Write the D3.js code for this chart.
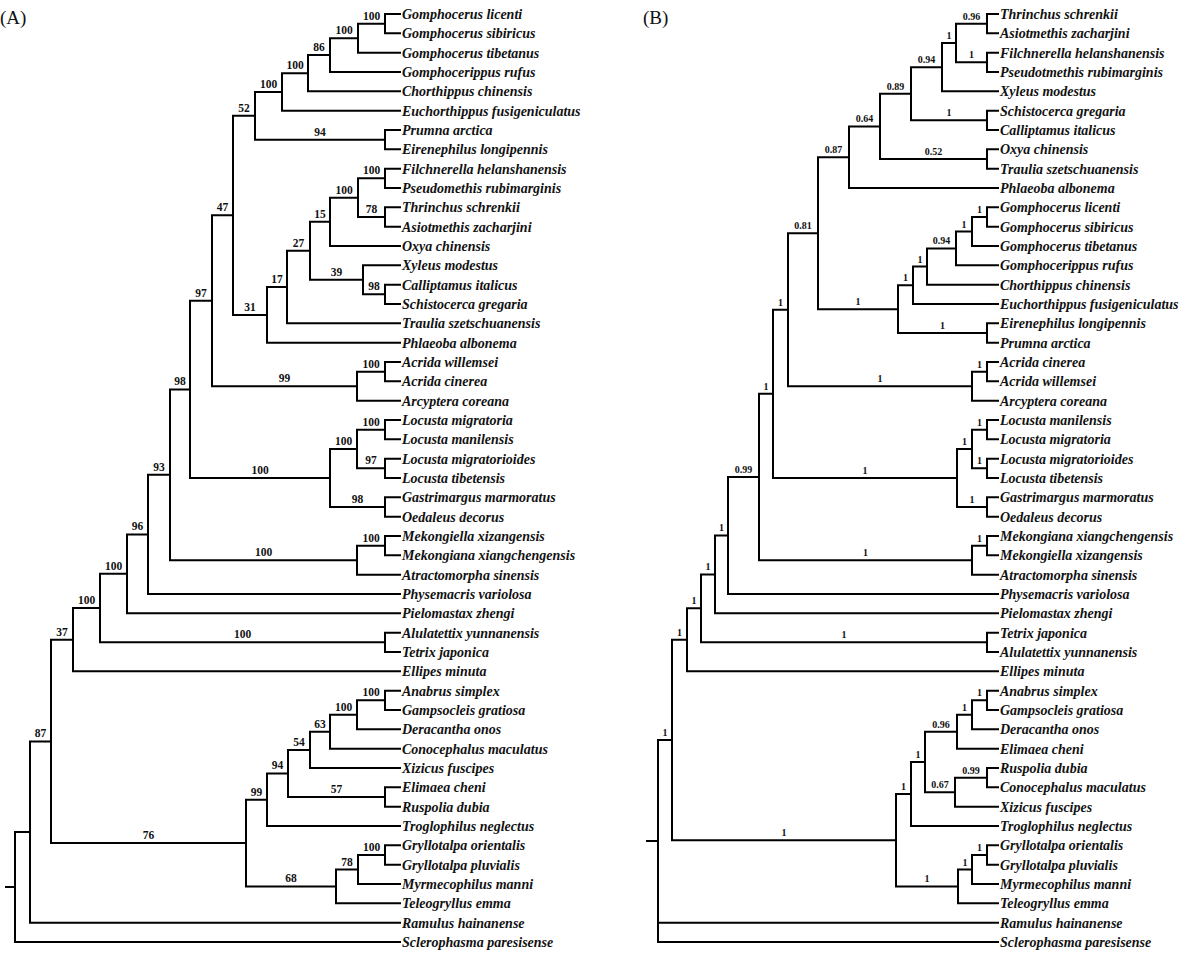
<!DOCTYPE html>
<html>
<head>
<meta charset="utf-8">
<script src="https://cdn.jsdelivr.net/npm/d3@7/dist/d3.min.js"></script>
<style>
  html, body { margin: 0; padding: 0; background: #fff; }
  svg { display: block; }
</style>
</head>
<body>
<svg id="chart" width="1200" height="975"></svg>
<script>
// ---------------- DATA ----------------
// Tree (A): Newick clades, internal labels = bootstrap support, lengths = branch lengths (figure units)
const A_gomph = "((((((Gomphocerus licenti,Gomphocerus sibiricus)100:27,Gomphocerus tibetanus)100:28,Gomphocerippus rufus)86:22,Chorthippus chinensis)100:26,Euchorthippus fusigeniculatus)100:27,(Prumna arctica,Eirenephilus longipennis)94:130)52:22";
const A_oedip = "((((((Filchnerella helanshanensis,Pseudomethis rubimarginis)100:27,(Thrinchus schrenkii,Asiotmethis zacharjini)78:27)100:28,Oxya chinensis)15:20,(Xyleus modestus,(Calliptamus italicus,Schistocerca gregaria)98:22)39:53)27:23,Traulia szetschuanensis)17:20,Phlaeoba albonema)31:34";
const A_acrida = "((Acrida willemsei,Acrida cinerea)100:28,Arcyptera coreana)99:145";
const A_locusta = "(((Locusta migratoria,Locusta manilensis)100:28,(Locusta migratorioides,Locusta tibetensis)97:28)100:27,(Gastrimargus marmoratus,Oedaleus decorus)98:55)100:140";
const A_mekong = "((Mekongiella xizangensis,Mekongiana xiangchengensis)100:28,Atractomorpha sinensis)100:187";
const A_tetrix = "(Alulatettix yunnanensis,Tetrix japonica)100:285";
const A_ensifera = "(((((((Anabrus simplex,Gampsocleis gratiosa)100:28,Deracantha onos)100:27,Conocephalus maculatus)63:20,Xizicus fuscipes)54:22,(Elimaea cheni,Ruspolia dubia)57:97)94:21,Troglophilus neglectus)99:21,(((Gryllotalpa orientalis,Gryllotalpa pluvialis)100:27,Myrmecophilus manni)78:22,Teleogryllus emma)68:90)76:195";
const A_caelifera =
  "((((((((" + A_gomph + "," + A_oedip + ")47:21," + A_acrida + ")97:22," + A_locusta + ")98:20," +
  A_mekong + ")93:22,Physemacris variolosa)96:21,Pielomastax zhengi)100:27," + A_tetrix + ")100:27,Ellipes minuta)37:22";
const newickA = "(((" + A_caelifera + "," + A_ensifera + ")87:21,Ramulus hainanense):15,Sclerophasma paresisense):10;";

// Tree (B): Newick clades, internal labels = posterior probabilities
const B_top = "(((((((Thrinchus schrenkii,Asiotmethis zacharjini)0.96:31,(Filchnerella helanshanensis,Pseudotmethis rubimarginis)1:31)1:14,Xyleus modestus)0.94:31,(Schistocerca gregaria,Calliptamus italicus)1:76)0.89:31,(Oxya chinensis,Traulia szetschuanensis)0.52:107)0.64:31,Phlaeoba albonema)0.87:31,((((((Gomphocerus licenti,Gomphocerus sibiricus)1:15,Gomphocerus tibetanus)1:16,Gomphocerippus rufus)0.94:29,Chorthippus chinensis)1:14,Euchorthippus fusigeniculatus)1:15,(Eirenephilus longipennis,Prumna arctica)1:89)1:80)0.81:30";
const B_acrida = "((Acrida cinerea,Acrida willemsei)1:15,Arcyptera coreana)1:184";
const B_locusta = "(((Locusta manilensis,Locusta migratoria)1:15,(Locusta migratorioides,Locusta tibetensis)1:15)1:15,(Gastrimargus marmoratus,Oedaleus decorus)1:30)1:184";
const B_mekong = "((Mekongiana xiangchengensis,Mekongiella xizangensis)1:15,Atractomorpha sinensis)1:213";
const B_tetrix = "(Tetrix japonica,Alulatettix yunnanensis)1:286";
const B_ensifera = "((((((Anabrus simplex,Gampsocleis gratiosa)1:15,Deracantha onos)1:15,Elimaea cheni)0.96:32,((Ruspolia dubia,Conocephalus maculatus)0.99:32,Xizicus fuscipes)0.67:30)1:14,Troglophilus neglectus)1:15,(((Gryllotalpa orientalis,Gryllotalpa pluvialis)1:15,Myrmecophilus manni)1:14,Teleogryllus emma)1:62)1:224";
const B_caelifera =
  "((((((((" + B_top + "," + B_acrida + ")1:15," + B_locusta + ")1:14," + B_mekong + ")0.99:31,Physemacris variolosa)1:13,Pielomastax zhengi)1:14," +
  B_tetrix + ")1:14,Ellipes minuta)1:15";
const newickB = "((" + B_caelifera + "," + B_ensifera + ")1:14,Ramulus hainanense,Sclerophasma paresisense):11;";

const panelTitles = ["(A)", "(B)"];
const tipDepths = [395, 351];   // aligned tip depth (figure units) for each tree

// ---------------- PARSER ----------------
function parseNewick(s) {
  let i = 0;
  function node() {
    const n = { children: [] };
    if (s[i] === "(") {
      i++;
      n.children.push(node());
      while (s[i] === ",") { i++; n.children.push(node()); }
      i++; // ')'
    }
    let label = "";
    while (i < s.length && !",():;".includes(s[i])) label += s[i++];
    n.name = label.trim();
    if (s[i] === ":") {
      i++;
      let num = "";
      while (i < s.length && !",();".includes(s[i])) num += s[i++];
      n.length = +num;
    }
    return n;
  }
  return node();
}

// ---------------- DRAW ----------------
const svg = d3.select("#chart");
const FONT = "'Liberation Serif','Times New Roman',serif";

function drawTree(newick, tipDepth, xRange, yRange, supportSize, title, titleX) {
  const data = parseNewick(newick);
  const root = d3.hierarchy(data, d => d.children.length ? d.children : null);
  root.eachBefore(d => { d.depthLen = (d.parent ? d.parent.depthLen : 0) + (d.data.length || 0); });
  const leaves = root.leaves();
  leaves.forEach(l => { l.depthLen = tipDepth; });

  const x = d3.scaleLinear().domain([0, tipDepth]).range(xRange);
  const y = d3.scalePoint().domain(leaves.map(l => l.data.name)).range(yRange);

  leaves.forEach(l => { l.py = y(l.data.name); });
  root.eachAfter(d => {
    if (d.children) d.py = (d.children[0].py + d.children[d.children.length - 1].py) / 2;
  });
  root.each(d => { d.px = x(d.depthLen); });

  const g = svg.append("g");
  // root stem
  g.append("path")
    .attr("d", `M${x(0)},${root.py}H${root.px}`)
    .attr("fill", "none").attr("stroke", "#000").attr("stroke-width", 2);

  // branches
  g.selectAll("path.branch")
    .data(root.descendants().filter(d => d.parent))
    .join("path")
    .attr("class", "branch")
    .attr("d", d => `M${d.parent.px},${d.parent.py}V${d.py}H${d.px}`)
    .attr("fill", "none")
    .attr("stroke", "#000")
    .attr("stroke-width", 2)
    .attr("stroke-linecap", "square")
    .attr("stroke-linejoin", "miter");

  // support values
  g.selectAll("text.support")
    .data(root.descendants().filter(d => d.parent && d.children && d.data.name))
    .join("text")
    .attr("class", "support")
    .attr("x", d => (d.parent.px + d.px) / 2)
    .attr("y", d => d.py - 4)
    .attr("text-anchor", "middle")
    .attr("font-family", FONT)
    .attr("font-weight", "bold")
    .attr("font-size", supportSize)
    .attr("fill", "#111")
    .text(d => d.data.name);

  // tip labels
  g.selectAll("text.tip")
    .data(leaves)
    .join("text")
    .attr("class", "tip")
    .attr("x", d => d.px + 2)
    .attr("y", d => d.py)
    .attr("dy", "0.35em")
    .attr("font-family", FONT)
    .attr("font-weight", "bold")
    .attr("font-style", "italic")
    .attr("font-size", 14)
    .attr("fill", "#111")
    .text(d => d.data.name);

  svg.append("text")
    .attr("x", titleX).attr("y", 24)
    .attr("font-family", FONT)
    .attr("font-size", 19)
    .attr("fill", "#111")
    .text(title);
}

drawTree(newickA, tipDepths[0], [5, 400], [14, 942], 11.5, panelTitles[0], 0);
drawTree(newickB, tipDepths[1], [647, 998], [14, 942], 10, panelTitles[1], 643);
</script>
</body>
</html>
